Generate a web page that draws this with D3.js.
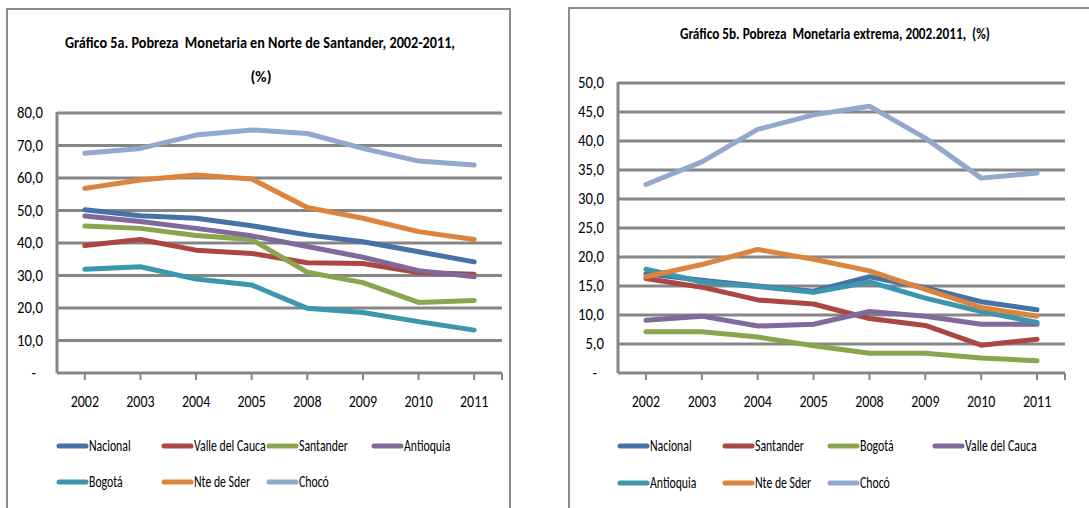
<!DOCTYPE html>
<html><head><meta charset="utf-8">
<script src="https://cdn.jsdelivr.net/npm/d3@7"></script>
<style>
html,body{margin:0;padding:0;background:#fff;}
text{font-family:Carlito,Calibri,"Liberation Sans Narrow","Open Sans",sans-serif;fill:#000;white-space:pre;}
</style></head><body>
<svg id="c" width="1089" height="508"></svg>
<script>
const years = ["2002","2003","2004","2005","2008","2009","2010","2011"];

// Gráfico 5a
const seriesA = ["Nacional","Valle del Cauca","Santander","Antioquia","Bogotá","Nte de Sder","Chocó"];
const nacionalA  = [50.2,48.4,47.6,45.3,42.5,40.4,37.3,34.2];
const valleA     = [39.2,41.1,37.8,36.8,33.9,33.7,30.9,30.4];
const santanderA = [45.2,44.5,42.3,41.1,31.0,27.8,21.7,22.3];
const antioquiaA = [48.3,46.6,44.5,42.2,38.9,35.6,31.5,29.6];
const bogotaA    = [31.9,32.7,28.9,27.1,19.9,18.6,15.8,13.2];
const nteA       = [56.8,59.4,60.9,59.7,50.9,47.6,43.5,41.1];
const chocoA     = [67.6,69.1,73.2,74.8,73.7,69.1,65.2,64.0];
const ticksA     = [0,10,20,30,40,50,60,70,80];
const tickLabelsA = ["-","10,0","20,0","30,0","40,0","50,0","60,0","70,0","80,0"];

// Gráfico 5b
const seriesB = ["Nacional","Santander","Bogotá","Valle del Cauca","Antioquia","Nte de Sder","Chocó"];
const nacionalB  = [17.1,16.0,15.0,14.1,16.6,14.7,12.3,10.9];
const santanderB = [16.3,14.8,12.6,11.9,9.4,8.2,4.8,5.8];
const bogotaB    = [7.1,7.1,6.2,4.7,3.4,3.4,2.6,2.1];
const valleB     = [9.1,9.8,8.1,8.4,10.6,9.8,8.4,8.4];
const antioquiaB = [17.9,15.7,14.9,13.9,15.7,12.9,10.6,8.7];
const nteB       = [16.6,18.7,21.3,19.6,17.6,14.4,11.3,9.8];
const chocoB     = [32.5,36.4,42.0,44.5,46.0,40.5,33.6,34.5];
const ticksB     = [0,5,10,15,20,25,30,35,40,45,50];
const tickLabelsB = ["-","5,0","10,0","15,0","20,0","25,0","30,0","35,0","40,0","45,0","50,0"];

const colors = ["#4572A7","#AA4643","#89A54E","#80699B","#3D96AE","#DB843D","#92A8CD"];

const svg = d3.select("#c");

function drawChart(o){
  const g = svg.append("g");
  g.append("rect").attr("x",o.frame[0]).attr("y",o.frame[1]).attr("width",o.frame[2]).attr("height",o.frame[3])
    .attr("fill","#fff").attr("stroke","#8c8c8c").attr("stroke-width",2);
  o.titles.forEach(t=>{
    const tt = g.append("text").attr("x",t.x).attr("y",t.y).attr("text-anchor","middle")
      .attr("font-size",15.5).attr("font-weight","bold").text(t.text);
    if(t.w) tt.attr("textLength",t.w).attr("lengthAdjust","spacingAndGlyphs");
  });
  const x = d3.scalePoint().domain(years).range([o.x0,o.x1]).padding(0.5);
  const y = d3.scaleLinear().domain([0,o.ticks[o.ticks.length-1]]).range([o.yb,o.yt]);
  g.selectAll(".grid").data(o.ticks.slice(1)).join("line")
    .attr("x1",o.x0).attr("x2",o.x1).attr("y1",d=>y(d)).attr("y2",d=>y(d))
    .attr("stroke","#868686").attr("stroke-width",3);
  g.append("line").attr("x1",o.x0).attr("x2",o.x0).attr("y1",y(o.ticks[o.ticks.length-1])-1).attr("y2",o.yb)
    .attr("stroke","#868686").attr("stroke-width",3);
  g.append("line").attr("x1",o.x0).attr("x2",o.x1).attr("y1",o.yb).attr("y2",o.yb)
    .attr("stroke","#868686").attr("stroke-width",3);
  const tickX = years.map(d=>x(d)).concat([o.x1]);
  g.selectAll(".xt").data(tickX).join("line")
    .attr("x1",d=>d).attr("x2",d=>d).attr("y1",o.yb).attr("y2",o.yb+7)
    .attr("stroke","#868686").attr("stroke-width",2);
  g.selectAll(".yl").data(o.ticks).join("text")
    .attr("transform",(d,i)=>`translate(${o.x0-14-(i===0?7:0)},${y(d)+5}) scale(0.95,1)`)
    .attr("text-anchor","end").attr("font-size",15.5).text((d,i)=>o.tickLabels[i]);
  g.selectAll(".xl").data(years).join("text")
    .attr("transform",d=>`translate(${x(d)},${o.yb+34}) scale(0.9,1)`)
    .attr("text-anchor","middle").attr("font-size",15.5).text(d=>d);
  const line = d3.line().x((d,i)=>x(years[i])).y(d=>y(d));
  o.values.forEach((vals,i)=>{
    g.append("path").attr("d",line(vals)).attr("fill","none").attr("stroke",colors[i])
      .attr("stroke-width",5).attr("stroke-linejoin","round").attr("stroke-linecap","round");
  });
  o.names.forEach((n,i)=>{
    const col = i%4, row = Math.floor(i/4);
    const lx = o.x0 + col*105, ly = o.legY[row];
    g.append("line").attr("x1",lx+2).attr("x2",lx+29).attr("y1",ly).attr("y2",ly)
      .attr("stroke",colors[i]).attr("stroke-width",5).attr("stroke-linecap","round");
    g.append("text").attr("transform",`translate(${lx+32},${ly+5}) scale(0.76,1)`)
      .attr("font-size",15.5).text(n);
  });
}

drawChart({
  frame:[7,9,503,520],
  titles:[{x:260,y:48,w:390,text:"Gráfico 5a. Pobreza  Monetaria en Norte de Santander, 2002-2011,"},{x:261,y:82,text:"(%)"}],
  x0:57,x1:502,yb:373,yt:113,
  ticks:ticksA,tickLabels:tickLabelsA,
  values:[nacionalA,valleA,santanderA,antioquiaA,bogotaA,nteA,chocoA],
  names:seriesA, legY:[446,482]
});
drawChart({
  frame:[569,8,540,520],
  titles:[{x:835,y:39,w:310,text:"Gráfico 5b. Pobreza  Monetaria extrema, 2002.2011,  (%)"}],
  x0:618,x1:1065,yb:373,yt:83,
  ticks:ticksB,tickLabels:tickLabelsB,
  values:[nacionalB,santanderB,bogotaB,valleB,antioquiaB,nteB,chocoB],
  names:seriesB, legY:[446,483]
});
</script>
</body></html>
